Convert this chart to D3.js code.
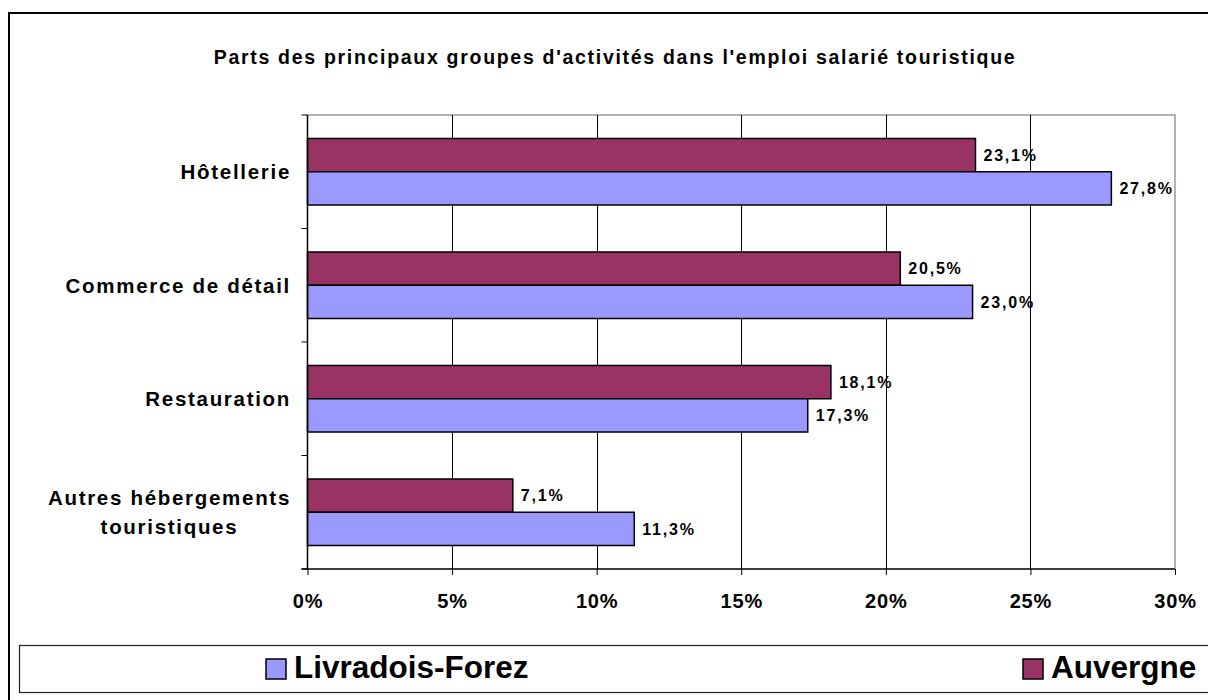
<!DOCTYPE html>
<html>
<head>
<meta charset="utf-8">
<script src="https://cdn.jsdelivr.net/npm/d3@7"></script>
<style>
  body { margin: 0; background: #fff; }
  svg { display: block; font-family: Arial, "Liberation Sans", sans-serif; }
</style>
</head>
<body>
<svg width="1208" height="700"></svg>
<script>
// chart data
let categories = ["Hôtellerie", "Commerce de détail", "Restauration", "Autres hébergements touristiques"];
let seriesNames = ["Auvergne", "Livradois-Forez"];
let auvergne = [23.1, 20.5, 18.1, 7.1];
let livradois = [27.8, 23.0, 17.3, 11.3];
let xTicks = [0, 5, 10, 15, 20, 25, 30];
let title = "Parts des principaux groupes d'activités dans l'emploi salarié touristique";
let colors = {"Auvergne": "#993366", "Livradois-Forez": "#9999FF"};

let svg = d3.select("svg");
let plotLeft = 307.5, plotRight = 1175, plotTop = 115, plotBottom = 569;

// outer frame
svg.append("rect")
    .attr("x", 9).attr("y", 13)
    .attr("width", 1220).attr("height", 720)
    .attr("fill", "none").attr("stroke", "#000").attr("stroke-width", 2);

svg.append("text")
    .attr("x", 615).attr("y", 64)
    .attr("text-anchor", "middle")
    .attr("font-size", 19.5).attr("font-weight", "bold")
    .attr("letter-spacing", 1.7)
    .text(title);

let x = d3.scaleLinear().domain([0, 30]).range([plotLeft, plotRight]);
let y = d3.scaleBand().domain(categories).range([plotTop, plotBottom])
    .paddingInner(0.414).paddingOuter(0.207);
let ys = d3.scaleBand().domain(seriesNames).range([0, y.bandwidth()]);

// plot area border (grey top/right)
svg.append("path")
    .attr("d", "M" + plotLeft + "," + plotTop + "H" + plotRight + "V" + plotBottom)
    .attr("fill", "none").attr("stroke", "#999").attr("stroke-width", 1.5);

// gridlines
svg.append("g")
    .selectAll("line")
    .data(xTicks.filter(d => d > 0 && d < 30))
    .enter().append("line")
    .attr("x1", d => Math.round(x(d)) + 0.5).attr("x2", d => Math.round(x(d)) + 0.5)
    .attr("y1", plotTop).attr("y2", plotBottom)
    .attr("stroke", "#000").attr("stroke-width", 1);

// bars
let rows = categories.map((c, i) => ({cat: c, values: [
    {name: "Auvergne", v: auvergne[i]},
    {name: "Livradois-Forez", v: livradois[i]}
]}));

let group = svg.append("g").selectAll("g")
    .data(rows)
    .enter().append("g")
    .attr("transform", d => "translate(0," + y(d.cat) + ")");

group.selectAll("rect")
    .data(d => d.values)
    .enter().append("rect")
    .attr("x", x(0))
    .attr("y", d => ys(d.name))
    .attr("width", d => x(d.v) - x(0))
    .attr("height", ys.bandwidth())
    .attr("fill", d => colors[d.name])
    .attr("stroke", "#000").attr("stroke-width", 1.5);

group.selectAll("text")
    .data(d => d.values)
    .enter().append("text")
    .attr("x", d => x(d.v) + 8)
    .attr("y", d => ys(d.name) + ys.bandwidth() / 2)
    .attr("dy", "0.36em")
    .attr("font-size", 16).attr("font-weight", "bold")
    .attr("letter-spacing", 1.8)
    .text(d => d.v.toFixed(1).replace(".", ",") + "%");

// x axis
let xAxis = d3.axisBottom(x)
    .tickValues(xTicks)
    .tickSize(6)
    .tickFormat(d => d + "%");
let gx = svg.append("g")
    .attr("transform", "translate(0," + plotBottom + ")")
    .call(xAxis);
gx.select(".domain").remove();
gx.append("line").attr("x1", plotLeft - 6).attr("x2", plotRight).attr("stroke", "#000").attr("stroke-width", 1.5);
gx.selectAll(".tick line").attr("stroke", "#000");
gx.selectAll(".tick text")
    .attr("y", 32)
    .attr("dy", "0.36em")
    .attr("fill", "#000")
    .attr("font-family", "Arial, 'Liberation Sans', sans-serif")
    .attr("font-size", 20).attr("font-weight", "bold")
    .attr("letter-spacing", 0.8);

// y axis
let boundaries = categories.map(c => y(c) - y.step() * y.paddingOuter()).concat([plotBottom]);
svg.append("line")
    .attr("x1", plotLeft).attr("x2", plotLeft).attr("y1", plotTop).attr("y2", plotBottom)
    .attr("stroke", "#000").attr("stroke-width", 1.5);
svg.append("g").selectAll("line")
    .data(boundaries)
    .enter().append("line")
    .attr("x1", plotLeft - 6).attr("x2", plotLeft)
    .attr("y1", d => d).attr("y2", d => d)
    .attr("stroke", "#000").attr("stroke-width", 1);

// category labels
let wrapLines = { "Autres hébergements touristiques": ["Autres hébergements", "touristiques"] };
let labelRight = 291;
categories.forEach(c => {
    let lines = wrapLines[c] || [c];
    let cy = y(c) + y.bandwidth() / 2;
    let t = svg.append("text")
        .attr("font-size", 20.5).attr("font-weight", "bold")
        .attr("letter-spacing", 1.7)
        .attr("text-anchor", "middle");
    lines.forEach((l, i) => {
        t.append("tspan").attr("x", 0)
            .attr("y", cy + (i - (lines.length - 1) / 2) * 29)
            .attr("dy", "0.36em")
            .text(l);
    });
    let w = d3.max(t.selectAll("tspan").nodes(), n => n.getComputedTextLength());
    t.selectAll("tspan").attr("x", labelRight - w / 2);
});

// legend
svg.append("rect")
    .attr("x", 19.5).attr("y", 645.5)
    .attr("width", 1220).attr("height", 47)
    .attr("fill", "#fff").attr("stroke", "#222").attr("stroke-width", 1.2);

let legendItems = [
    {name: "Livradois-Forez", sx: 266},
    {name: "Auvergne", sx: 1023}
];
let lg = svg.append("g").selectAll("g")
    .data(legendItems)
    .enter().append("g");
lg.append("rect")
    .attr("x", d => d.sx).attr("y", 659)
    .attr("width", 20).attr("height", 20)
    .attr("fill", d => colors[d.name])
    .attr("stroke", "#000").attr("stroke-width", 1.5);
lg.append("text")
    .attr("x", d => d.sx + 28).attr("y", 678)
    .attr("font-size", 31.5).attr("font-weight", "bold")
    .text(d => d.name);
</script>
</body>
</html>
